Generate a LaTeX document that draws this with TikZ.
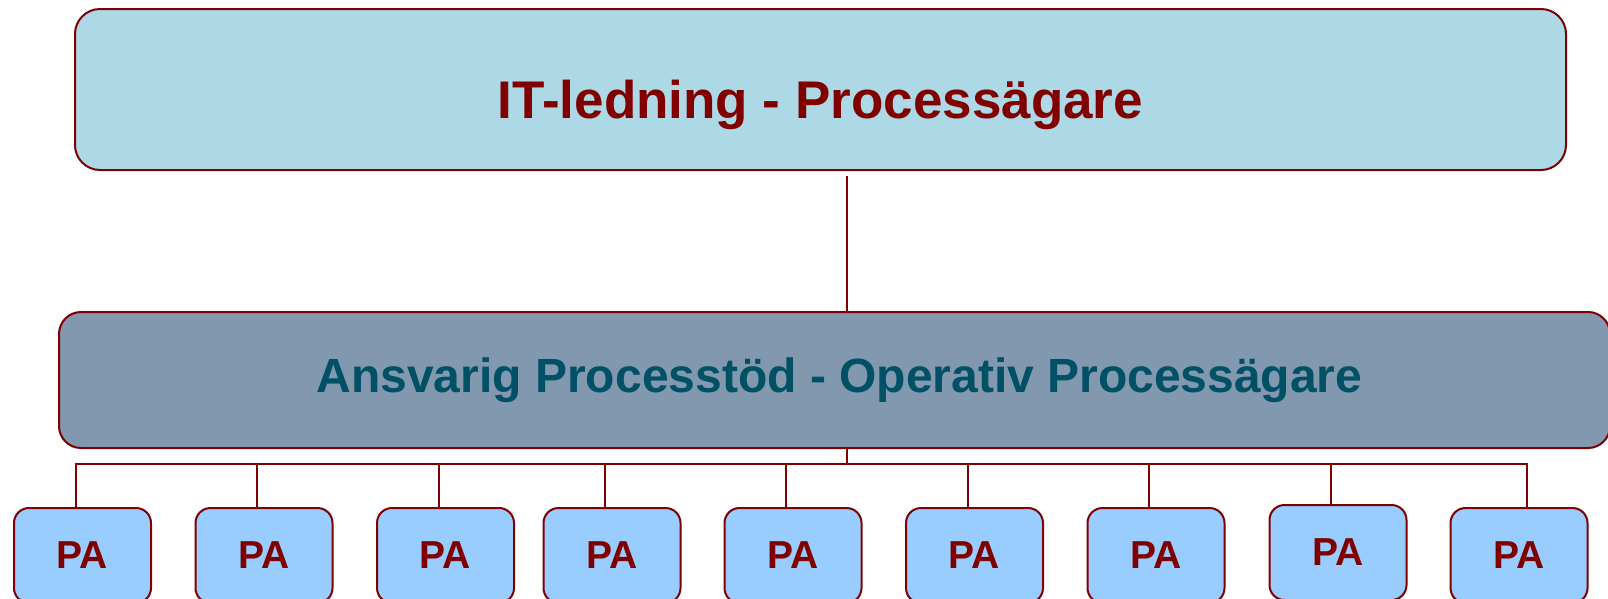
\documentclass[tikz,border=0pt]{standalone}
\usepackage{fontspec}
\setmainfont{Liberation Sans}
\usetikzlibrary{calc}
\definecolor{frame}{HTML}{800000}
\definecolor{topfill}{HTML}{ADD8E6}
\definecolor{midfill}{HTML}{8198AE}
\definecolor{pafill}{HTML}{99CCFF}
\definecolor{midtext}{HTML}{005066}
\begin{document}
\begin{tikzpicture}[x=1pt,y=-1pt,
  box/.style={draw=frame, line width=2pt, inner sep=0pt},
  topbox/.style={box, fill=topfill, rounded corners=25pt, minimum width=1491pt, minimum height=161pt},
  toptext/.style={inner sep=0pt, text=frame, font=\bfseries\fontsize{53}{60}\selectfont},
  midbox/.style={box, fill=midfill, rounded corners=22pt, minimum width=1551pt, minimum height=136pt},
  midtext/.style={inner sep=0pt, text=midtext, font=\bfseries\fontsize{48}{56}\selectfont},
  pabox/.style={box, fill=pafill, rounded corners=15pt, minimum width=137pt, minimum height=95pt,
    text=frame, font=\bfseries\fontsize{39}{46}\selectfont},
  wire/.style={draw=frame, line width=2pt}]
\useasboundingbox (0,0) rectangle (1608,598);
\node[topbox] (top) at (820.5,89.5) {};
\node[toptext] (toplabel) at ($(top.center)+(0,15)$) {IT-ledning - Processägare};
\node[midbox] (mid) at (834.5,380) {};
\node[midtext] (midlabel) at ($(mid.center)+(5,0)$) {Ansvarig Processtöd - Operativ Processägare};
\foreach \i/\x in {1/82.5,2/264,3/445.5,4/612,5/793,6/974.5,7/1156,9/1519}
  \node[pabox] (pa\i) at (\x,555.5) {PA};
\node[pabox] (pa8) at (1338,552.5) {PA};
\coordinate (hub) at (847,463.5);
\draw[wire] ($(top.south -| hub)+(0,5)$) -- (mid.north -| hub);
\draw[wire] (mid.south -| hub) -- (hub);
\foreach \i in {1,...,8}
  \coordinate (d\i) at ($(pa\i.north)+(-7,0)$);
\coordinate (d9) at ($(pa9.north)+(8,0)$);
\draw[wire] (d1) |- (hub) -| (d9);
\foreach \i in {2,...,8}
  \draw[wire] (d\i) -- (d\i |- hub);
\end{tikzpicture}
\end{document}
